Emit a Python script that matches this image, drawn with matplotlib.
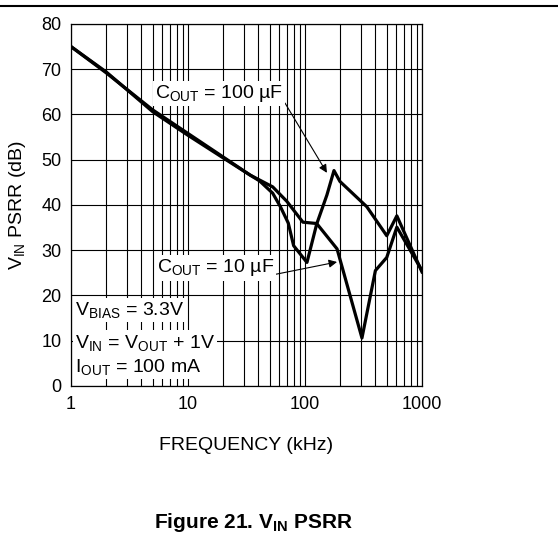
import matplotlib
matplotlib.use("Agg")
import matplotlib.pyplot as plt
from matplotlib.lines import Line2D
from matplotlib.ticker import FixedLocator, NullFormatter

plt.rcParams["font.family"] = ["Liberation Sans", "DejaVu Sans"]
plt.rcParams["mathtext.fontset"] = "custom"
plt.rcParams["mathtext.rm"] = "Liberation Sans"
plt.rcParams["mathtext.it"] = "Liberation Sans"
plt.rcParams["mathtext.bf"] = "Liberation Sans:bold"

# curve data (kHz, dB)
freq_100 = [1, 2, 5, 10, 20, 34, 41, 53, 62, 72, 80, 104, 126, 154, 177, 199, 338, 500, 610, 1000]
psrr_100 = [75, 69.2, 61, 55.8, 50.6, 46.6, 45.3, 42.6, 39.5, 36, 31, 27.3, 35.8, 42.2, 47.6, 45.2, 39.6, 33.2, 37.6, 25.2]

freq_10 = [1, 2, 5, 10, 20, 34, 53, 70, 96, 126, 188, 307, 400, 500, 610, 1000]
psrr_10 = [75, 69.4, 60.6, 55.4, 50.4, 46.6, 44, 40.8, 36.2, 35.9, 30.3, 10.6, 25.5, 28.4, 35.1, 25.5]

x_ticks = [1, 10, 100, 1000]
y_ticks = [0, 10, 20, 30, 40, 50, 60, 70, 80]

conditions = [r"V$_{\mathrm{BIAS}}$ = 3.3V",
              r"V$_{\mathrm{IN}}$ = V$_{\mathrm{OUT}}$ + 1V",
              r"I$_{\mathrm{OUT}}$ = 100 mA"]

fig = plt.figure(figsize=(5.58, 5.36), dpi=100)
ax = fig.add_axes([0.1272, 0.2799, 0.629, 0.6754])

ax.plot(freq_100, psrr_100, color="black", lw=2.3, zorder=4)
ax.plot(freq_10, psrr_10, color="black", lw=2.3, zorder=4)

ax.set_xscale("log")
ax.set_xlim(1, 1000)
ax.set_ylim(0, 80)
ax.set_xticks(x_ticks)
ax.set_xticklabels([str(t) for t in x_ticks])
minors = [m * 10 ** d for d in range(3) for m in range(2, 10)]
ax.xaxis.set_minor_locator(FixedLocator(minors))
ax.xaxis.set_minor_formatter(NullFormatter())
ax.set_yticks(y_ticks)

ax.grid(True, which="both", axis="x", color="black", lw=0.8)
ax.grid(True, which="major", axis="y", color="black", lw=0.8)
ax.tick_params(which="both", length=0, labelsize=13, pad=7)
for s in ax.spines.values():
    s.set_linewidth(0.9)

ax.set_xlabel("FREQUENCY (kHz)", fontsize=14)
ax.set_ylabel(r"V$_{\mathrm{IN}}$ PSRR (dB)", fontsize=14)
ax.xaxis.set_label_coords(0.5, -0.141)
ax.yaxis.set_label_coords(-0.122, 0.5)

box = dict(facecolor="white", edgecolor="none", pad=1.5)
ax.annotate(r"C$_{\mathrm{OUT}}$ = 100 µF", xy=(154, 47.1), xytext=(5.2, 64.7),
            fontsize=14, va="center", ha="left", bbox=box, zorder=5,
            arrowprops=dict(arrowstyle="-|>", color="black", lw=0.8,
                            mutation_scale=12, shrinkA=0, shrinkB=0,
                            relpos=(1.0, 0.2)))
ax.annotate(r"C$_{\mathrm{OUT}}$ = 10 µF", xy=(188, 27.4), xytext=(5.4, 26.1),
            fontsize=14, va="center", ha="left", bbox=box, zorder=5,
            arrowprops=dict(arrowstyle="-|>", color="black", lw=0.8,
                            mutation_scale=12, shrinkA=0, shrinkB=0,
                            relpos=(0.93, 0.1)))

for txt, yv in zip(conditions, [16.8, 9.6, 4.2]):
    ax.text(1.08, yv, txt, fontsize=14, va="center", ha="left", bbox=box, zorder=5)

fig.add_artist(Line2D([0, 1], [0.9888, 0.9888], color="black", lw=1.5))
fig.text(253 / 558, 1 - 522 / 536, r"Figure 21. V$_{\mathbf{IN}}$ PSRR",
         fontsize=15, fontweight="bold", ha="center", va="center")

fig.savefig("out.png", dpi=100)
